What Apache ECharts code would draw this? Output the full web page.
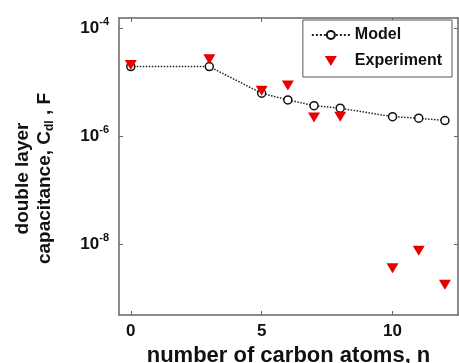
<!DOCTYPE html>
<html>
<head>
<meta charset="utf-8">
<script src="https://cdn.jsdelivr.net/npm/echarts@6/dist/echarts.min.js"></script>
<style>
  html, body { margin: 0; padding: 0; background: #fff; }
  #chart { width: 459px; height: 363px; }
</style>
</head>
<body>
<div id="chart"></div>
<script>
// number of carbon atoms
var modelN = [0, 3, 5, 6, 7, 8, 10, 11, 12];
var modelC = [1.93e-5, 1.93e-5, 6.2e-6, 4.67e-6, 3.66e-6, 3.28e-6, 2.29e-6, 2.14e-6, 1.94e-6];
var expN = [0, 3, 5, 6, 7, 8, 10, 11, 12];
var expC = [2.07e-5, 2.64e-5, 6.9e-6, 8.6e-6, 2.2e-6, 2.29e-6, 3.6e-9, 7.55e-9, 1.78e-9];
var xTicks = [0, 5, 10];
var yTicks = [1e-8, 1e-6, 1e-4];

var font = '"Liberation Sans", Arial, sans-serif';
var chart = echarts.init(document.getElementById('chart'));

function pairs(xs, ys) {
  return xs.map(function (x, i) { return [x, ys[i]]; });
}

function yLabel(v) {
  return '{b|10}{s|' + Math.round(Math.log10(v)) + '}';
}

var axisColor = '#666';
var red = '#e60000';

function xAxisBase(pos) {
  return {
    type: 'value',
    position: pos,
    min: -0.45,
    max: 12.5,
    axisLine: { show: true, onZero: false, lineStyle: { color: axisColor, width: 1.5 } },
    axisTick: { inside: true, length: 4, customValues: xTicks, lineStyle: { color: axisColor } },
    splitLine: { show: false }
  };
}
function yAxisBase(pos) {
  return {
    type: 'log',
    position: pos,
    min: 4.9e-10,
    max: 1.53e-4,
    axisLine: { show: true, onZero: false, lineStyle: { color: axisColor, width: 1.5 } },
    axisTick: { inside: true, length: 4, customValues: yTicks, lineStyle: { color: axisColor } },
    minorTick: { show: false },
    splitLine: { show: false }
  };
}

var xBottom = xAxisBase('bottom');
xBottom.name = 'number of carbon atoms, n';
xBottom.nameLocation = 'middle';
xBottom.nameGap = 22;
xBottom.nameTextStyle = { fontFamily: font, fontWeight: 'bold', fontSize: 22, color: '#111' };
xBottom.axisLabel = {
  margin: 8, customValues: xTicks,
  fontFamily: font, fontWeight: 'bold', fontSize: 17, color: '#111'
};
var xTop = xAxisBase('top');
xTop.axisLabel = { show: false };

var yLeft = yAxisBase('left');
yLeft.name = '{t|double layer}\n{t|capacitance, C}{sub|dl}{t| , F}';
yLeft.nameLocation = 'middle';
yLeft.nameGap = 63;
yLeft.nameTextStyle = {
  padding: [0, 24, 0, 0],
  rich: {
    t: { fontFamily: font, fontWeight: 'bold', fontSize: 19, color: '#111', lineHeight: 22 },
    sub: { fontFamily: font, fontWeight: 'bold', fontSize: 12, color: '#111', padding: [10, 0, 0, 0] }
  }
};
yLeft.axisLabel = {
  margin: 10,
  customValues: yTicks,
  formatter: yLabel,
  rich: {
    b: { fontFamily: font, fontWeight: 'bold', fontSize: 17, color: '#111' },
    s: { fontFamily: font, fontWeight: 'bold', fontSize: 11, color: '#111', padding: [0, 0, 12, 0] }
  }
};
var yRight = yAxisBase('right');
yRight.axisLabel = { show: false };

var option = {
  animation: false,
  grid: { left: 119, right: 1, top: 18, bottom: 48, outerBoundsMode: 'none' },
  legend: {
    orient: 'vertical',
    right: 7,
    top: 20,
    backgroundColor: '#fff',
    borderColor: '#555',
    borderWidth: 1,
    padding: [7, 10, 8, 8],
    itemGap: 10,
    itemWidth: 38,
    itemHeight: 10,
    symbolKeepAspect: true,
    textStyle: { fontFamily: font, fontWeight: 'bold', fontSize: 16, color: '#111' },
    data: [
      { name: 'Model' },
      { name: 'Experiment', icon: 'path://M0,0 L12,0 L6,10 Z', itemStyle: { color: red } }
    ]
  },
  xAxis: [xBottom, xTop],
  yAxis: [yLeft, yRight],
  series: [{
    name: 'Model',
    type: 'line',
    data: pairs(modelN, modelC),
    symbol: 'circle',
    symbolSize: 8,
    z: 2,
    lineStyle: { color: '#222', width: 1.5, type: 'dotted' },
    itemStyle: { color: '#fff', borderColor: '#111', borderWidth: 1.5 }
  }, {
    name: 'Experiment',
    type: 'scatter',
    data: pairs(expN, expC),
    symbol: 'triangle',
    symbolRotate: 180,
    symbolSize: [12, 10],
    z: 3,
    itemStyle: { color: red, opacity: 1 }
  }]
};
chart.setOption(option);
</script>
</body>
</html>
